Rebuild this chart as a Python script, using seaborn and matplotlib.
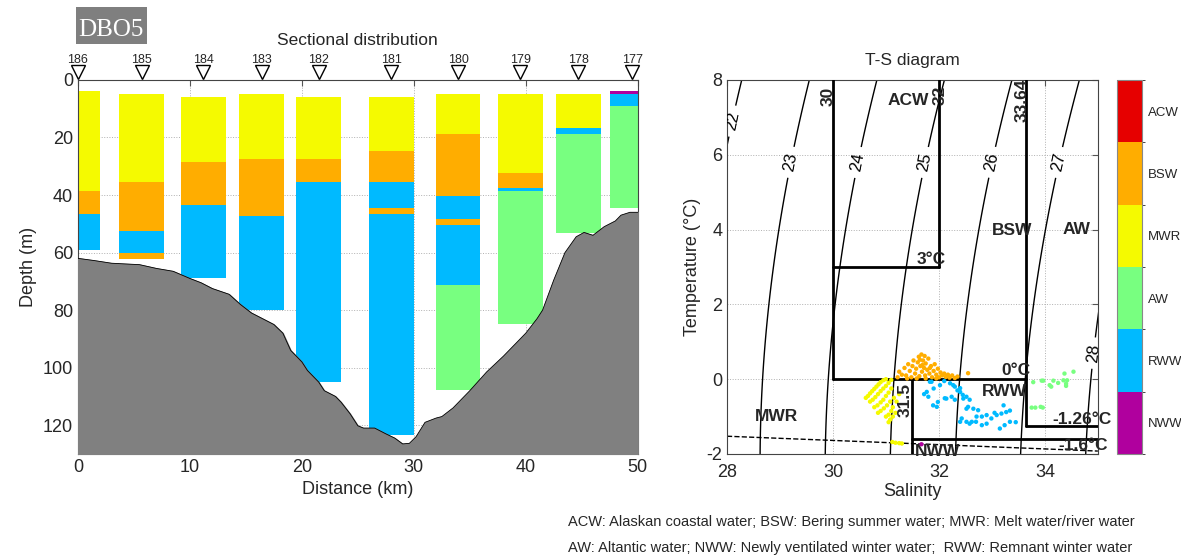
import numpy as np
import matplotlib
matplotlib.use('Agg')
import matplotlib.pyplot as plt
from matplotlib.colors import ListedColormap, BoundaryNorm
from matplotlib.patches import Rectangle
import matplotlib.colorbar as mcolorbar
import seaborn as sns

sns.set_style('white')
plt.rcParams['font.family'] = ['Liberation Sans', 'DejaVu Sans']
plt.rcParams['axes.unicode_minus'] = False

# water mass colours
mass_names = ['NWW', 'RWW', 'AW', 'MWR', 'BSW', 'ACW']
mass_colors = ['#b0009e', '#00baff', '#78ff80', '#f5fa00', '#ffad00', '#e60000']
pal = dict(zip(mass_names, mass_colors))

# stations along the section
station_ids = ['186', '185', '184', '183', '182', '181', '180', '179', '178', '177']
station_km = [0.0, 5.7, 11.2, 16.4, 21.5, 28.0, 33.95, 39.5, 44.7, 49.5]

# layer boundaries (depth, m) and water mass of each layer, per station
layer_depths = [
    [4, 38.5, 46.5, 59],
    [5, 35.6, 52.5, 60.3, 62.1],
    [6, 28.6, 43.5, 69],
    [5, 27.5, 47.4, 80],
    [6, 27.5, 35.5, 105],
    [6, 24.6, 35.5, 44.4, 46.5, 123.4],
    [5, 18.8, 40.5, 48.3, 50.4, 71.2, 107.8],
    [5, 32.5, 37.5, 38.5, 84.9],
    [5, 16.6, 18.8, 53.3],
    [4, 5, 9, 44.4],
]
layer_masses = [
    ['MWR', 'BSW', 'RWW'],
    ['MWR', 'BSW', 'RWW', 'BSW'],
    ['MWR', 'BSW', 'RWW'],
    ['MWR', 'BSW', 'RWW'],
    ['MWR', 'BSW', 'RWW'],
    ['MWR', 'BSW', 'RWW', 'BSW', 'RWW'],
    ['MWR', 'BSW', 'RWW', 'BSW', 'RWW', 'AW'],
    ['MWR', 'BSW', 'RWW', 'AW'],
    ['MWR', 'RWW', 'AW'],
    ['NWW', 'RWW', 'AW'],
]

# bottom topography
bathy_km = [0, 1.5, 3, 4.5, 5.5, 7, 8.5, 10, 11, 12, 13.5, 14.5, 15.5, 16.5, 17.5, 18.3, 19,
            20, 20.5, 21.5, 22, 23, 23.5, 24.3, 25, 25.5, 26.5, 27.5, 28.3, 29, 29.6, 30.2,
            31, 32, 32.5, 33.5, 34, 35, 36.5, 38, 39, 40, 41, 41.5, 42.5, 43.5, 44.5, 45.2,
            46, 47, 48, 48.5, 49.3, 50]
bathy_depth = [62, 62.8, 63.7, 64, 64.2, 65.5, 66.5, 69, 70.5, 72.5, 74.5, 78, 81, 83, 85,
               88, 94, 98, 101, 105, 108, 110, 112, 116, 120.2, 121, 121, 123, 124.5, 126.5,
               126.3, 124, 119, 117.5, 117, 114, 112, 108, 101.5, 96, 92, 88, 83, 80, 69.5,
               60, 54.5, 53, 54, 51, 49, 47, 46, 46]

# T-S points by water mass
ts_S = {
    'BSW': [31.22, 31.25, 31.3, 31.35, 31.38, 31.42, 31.45, 31.48, 31.5, 31.52, 31.55, 31.57,
            31.6, 31.62, 31.63, 31.65, 31.67, 31.68, 31.7, 31.72, 31.74, 31.75, 31.78, 31.8,
            31.82, 31.85, 31.87, 31.9, 31.92, 31.95, 31.98, 32.0, 32.03, 32.06, 32.1, 32.13,
            32.17, 32.2, 32.25, 32.3, 32.35, 32.55, 31.58, 31.4, 31.75, 31.95, 31.69, 31.73,
            31.64, 31.83],
    'MWR': [30.62, 30.66, 30.7, 30.74, 30.78, 30.82, 30.86, 30.9, 30.95, 31.0, 30.7, 30.75,
            30.8, 30.85, 30.9, 30.95, 31.0, 31.05, 31.1, 30.78, 30.84, 30.9, 30.95, 31.0,
            31.05, 31.1, 30.85, 30.9, 30.96, 31.02, 31.08, 31.0, 31.05, 31.1, 31.13, 31.05,
            31.08, 31.13, 31.18, 31.2, 31.25, 31.15, 31.12, 31.18, 31.25, 31.3],
    'RWW': [31.86, 32.02, 32.21, 32.3, 32.4, 31.77, 31.72, 31.89, 31.98, 32.11, 32.24, 32.3,
            32.43, 32.52, 32.62, 32.71, 32.81, 32.9, 32.99, 33.09, 33.18, 33.27, 33.34, 33.15,
            33.24, 33.34, 32.74, 32.65, 32.55, 32.52, 32.58, 32.45, 32.81, 32.9, 33.22, 31.83,
            31.9, 31.8, 31.96, 32.14, 32.27, 32.4, 32.46, 32.52, 32.4, 32.58, 32.7, 33.05,
            33.45, 32.35, 32.1],
    'AW': [33.94, 33.97, 34.16, 34.09, 34.12, 34.35, 34.37, 34.4, 34.4, 34.42, 34.54, 33.75,
           33.82, 33.92, 33.96, 33.78, 34.25],
    'NWW': [31.67],
}
ts_T = {
    'BSW': [0.05, 0.2, 0.12, 0.3, 0.1, 0.4, 0.22, 0.05, 0.35, 0.5, 0.15, 0.28, 0.45, 0.6,
            0.08, 0.35, 0.66, 0.2, 0.5, 0.3, 0.1, 0.42, 0.25, 0.55, 0.15, 0.35, 0.05, 0.22,
            0.4, 0.12, 0.28, 0.05, 0.18, 0.1, 0.15, 0.06, 0.12, 0.04, 0.1, 0.03, 0.07, 0.16,
            0.02, 0.02, 0.02, 0.02, 0.38, 0.62, 0.52, 0.3],
    'MWR': [-0.5, -0.45, -0.38, -0.32, -0.26, -0.2, -0.14, -0.08, -0.03, 0.0, -0.6, -0.55,
            -0.48, -0.4, -0.32, -0.25, -0.18, -0.1, -0.02, -0.75, -0.7, -0.62, -0.55, -0.45,
            -0.36, -0.25, -0.9, -0.85, -0.78, -0.7, -0.6, -1.0, -0.95, -0.85, -0.75, -1.15,
            -1.08, -1.0, -0.9, -0.6, -0.4, -0.5, -1.68, -1.7, -1.71, -1.72],
    'RWW': [-0.07, -0.16, -0.11, -0.2, -0.24, -0.34, -0.4, -0.7, -0.61, -0.51, -0.47, -0.55,
            -1.05, -1.14, -1.14, -1.0, -1.0, -0.96, -1.05, -0.96, -0.92, -0.88, -0.84, -1.32,
            -1.23, -1.14, -0.83, -0.79, -0.74, -0.47, -0.55, -0.42, -1.23, -1.19, -0.7, -0.07,
            -0.25, -0.47, -0.74, -0.52, -0.16, -0.34, -0.52, -0.79, -1.14, -1.19, -1.14, -0.9,
            -1.15, -0.3, -0.05],
    'AW': [-0.04, -0.04, -0.04, -0.16, -0.2, -0.03, 0.15, -0.12, -0.18, -0.03, 0.2, -0.76,
           -0.76, -0.74, -0.76, -0.08, -0.1],
    'NWW': [-1.74],
}

# sigma-t contour levels
sigma_levels = [22, 23, 24, 25, 26, 27, 28]
sigma_label_pos = [(28.1, 6.9), (29.2, 5.8), (30.45, 5.8), (31.72, 5.8), (33.0, 5.8),
                   (34.25, 5.8), (34.9, 0.7)]


def sigma_t(S, T):
    """UNESCO 1980 density at surface pressure minus 1000"""
    rw = (999.842594 + 6.793952e-2 * T - 9.095290e-3 * T**2 + 1.001685e-4 * T**3
          - 1.120083e-6 * T**4 + 6.536332e-9 * T**5)
    A = 8.24493e-1 - 4.0899e-3 * T + 7.6438e-5 * T**2 - 8.2467e-7 * T**3 + 5.3875e-9 * T**4
    B = -5.72466e-3 + 1.0227e-4 * T - 1.6546e-6 * T**2
    C = 4.8314e-4
    return rw + A * S + B * S**1.5 + C * S**2 - 1000


def freezing_point(S):
    return -0.0575 * S + 1.710523e-3 * S**1.5 - 2.154996e-4 * S**2


fig = plt.figure(figsize=(11.81, 5.56), dpi=100)
ax1 = fig.add_axes([0.066, 0.1835, 0.474, 0.6727])
ax2 = fig.add_axes([0.6156, 0.1835, 0.314, 0.6727])
cax = fig.add_axes([0.9458, 0.1835, 0.0212, 0.6727])

# ---------------- sectional distribution ----------------
bar_w = 4.0
for km, depths, masses in zip(station_km, layer_depths, layer_masses):
    for i, m in enumerate(masses):
        ax1.bar(km, depths[i + 1] - depths[i], bottom=depths[i], width=bar_w,
                color=pal[m], edgecolor='none', zorder=2)
ax1.fill_between(bathy_km, bathy_depth, 130, color='#808080', zorder=3)
ax1.plot(bathy_km, bathy_depth, color='black', lw=0.6, zorder=4)

ax1.set_xlim(0, 50)
ax1.set_ylim(130, 0)
ax1.set_xticks([0, 10, 20, 30, 40, 50])
ax1.set_yticks([0, 20, 40, 60, 80, 100, 120])
ax1.grid(True, linestyle=':', color='#b0b0b0', lw=0.7)
ax1.tick_params(direction='in', top=True, right=True, labelsize=13, length=4, color='#555555')
ax1.set_xlabel('Distance (km)', fontsize=13, labelpad=4)
ax1.set_ylabel('Depth (m)', fontsize=13, labelpad=4)
for sp in ax1.spines.values():
    sp.set_color('#444444')
    sp.set_linewidth(0.8)
ax1.set_title('Sectional distribution', fontsize=12.5, pad=25.5)

trans = ax1.get_xaxis_transform()
ax1.plot(station_km, [1.022] * len(station_km), transform=trans, marker='v',
         ms=10.5, mfc='white', mec='black', mew=1.0, ls='none', clip_on=False, zorder=5)
for sid, km in zip(station_ids, station_km):
    ax1.text(km, 1.053, sid, transform=trans, ha='center', va='center', fontsize=9)

fig.patches.append(Rectangle((0.0644, 0.921), 0.060, 0.0665, transform=fig.transFigure,
                             facecolor='#7f7f7f', edgecolor='none'))
fig.text(0.094, 0.946, 'DBO5', ha='center', va='center', fontsize=18, color='white',
         family='Liberation Serif')

# ---------------- T-S diagram ----------------
Sg, Tg = np.meshgrid(np.linspace(27.5, 35.5, 200), np.linspace(-2.5, 8.5, 200))
cs = ax2.contour(Sg, Tg, sigma_t(Sg, Tg), levels=sigma_levels, colors='black',
                 linewidths=1.0, zorder=2)
ax2.clabel(cs, fmt='%d', fontsize=12, inline=True, manual=sigma_label_pos)

S_fr = np.linspace(28, 35, 50)
ax2.plot(S_fr, freezing_point(S_fr), color='black', ls='--', lw=1.0, zorder=2)

lwb = 2.0
ax2.plot([30, 30], [8, 0], color='black', lw=lwb, zorder=3)
ax2.plot([30, 33.64], [0, 0], color='black', lw=lwb, zorder=3)
ax2.plot([30, 32], [3, 3], color='black', lw=lwb, zorder=3)
ax2.plot([32, 32], [3, 8], color='black', lw=lwb, zorder=3)
ax2.plot([33.64, 33.64], [8, -1.26], color='black', lw=lwb, zorder=3)
ax2.plot([33.64, 35], [-1.26, -1.26], color='black', lw=lwb, zorder=3)
ax2.plot([31.5, 31.5], [0, -2], color='black', lw=lwb, zorder=3)
ax2.plot([31.5, 35], [-1.6, -1.6], color='black', lw=lwb, zorder=3)

ts_rows = []
for m in ['BSW', 'MWR', 'RWW', 'AW', 'NWW']:
    for s, t in zip(ts_S[m], ts_T[m]):
        ts_rows.append((s, t, m))
ts_S_all = [r[0] for r in ts_rows]
ts_T_all = [r[1] for r in ts_rows]
ts_M_all = [r[2] for r in ts_rows]
sns.scatterplot(x=ts_S_all, y=ts_T_all, hue=ts_M_all, palette=pal, s=10, linewidth=0,
                legend=False, ax=ax2, zorder=4)

bold = dict(fontsize=12.5, fontweight='bold', ha='center', va='center', zorder=5)
ax2.text(31.42, 7.44, 'ACW', **bold)
ax2.text(33.38, 3.97, 'BSW', **bold)
ax2.text(34.6, 4.0, 'AW', **bold)
ax2.text(28.93, -1.0, 'MWR', **bold)
ax2.text(33.24, -0.34, 'RWW', **bold)
ax2.text(31.98, -1.94, 'NWW', **bold)
ax2.text(31.85, 3.2, '3°C', **bold)
ax2.text(33.46, 0.22, '0°C', **bold)
ax2.text(34.7, -1.07, '-1.26°C', **bold)
ax2.text(34.72, -1.77, '-1.6°C', **bold)
ax2.text(31.36, -0.56, '31.5', rotation=90, **bold)
ax2.text(29.9, 7.57, '30', rotation=90, **bold)
ax2.text(32.02, 7.6, '32', rotation=90, **bold)
ax2.text(33.58, 7.45, '33.64', rotation=90, **bold)

ax2.set_xlim(28, 35)
ax2.set_ylim(-2, 8)
ax2.set_xticks([28, 30, 32, 34])
ax2.set_yticks([-2, 0, 2, 4, 6, 8])
ax2.grid(True, linestyle=':', color='#b0b0b0', lw=0.7)
ax2.tick_params(direction='in', top=True, right=True, labelsize=13, length=4, color='#555555')
ax2.tick_params(axis='x', pad=7)
ax2.set_xlabel('Salinity', fontsize=13, labelpad=2)
ax2.set_ylabel('Temperature (°C)', fontsize=13, labelpad=4)
for sp in ax2.spines.values():
    sp.set_color('#444444')
    sp.set_linewidth(0.8)
ax2.set_title('T-S diagram', fontsize=12.5, pad=11)

# colour bar
cmap = ListedColormap(mass_colors)
norm = BoundaryNorm(np.arange(7), cmap.N)
cb = mcolorbar.ColorbarBase(cax, cmap=cmap, norm=norm, ticks=np.arange(6) + 0.5)
cb.set_ticklabels(mass_names)
cb.ax.tick_params(length=0, labelsize=9.5, pad=4)
cb.outline.set_edgecolor('#888888')
cb.outline.set_linewidth(0.8)

fig.text(0.481, 0.061, 'ACW: Alaskan coastal water; BSW: Bering summer water; MWR: Melt water/river water',
         fontsize=10.5, ha='left', va='center')
fig.text(0.481, 0.0144, 'AW: Altantic water; NWW: Newly ventilated winter water;  RWW: Remnant winter water',
         fontsize=10.5, ha='left', va='center')

fig.savefig('out.png', dpi=100)
